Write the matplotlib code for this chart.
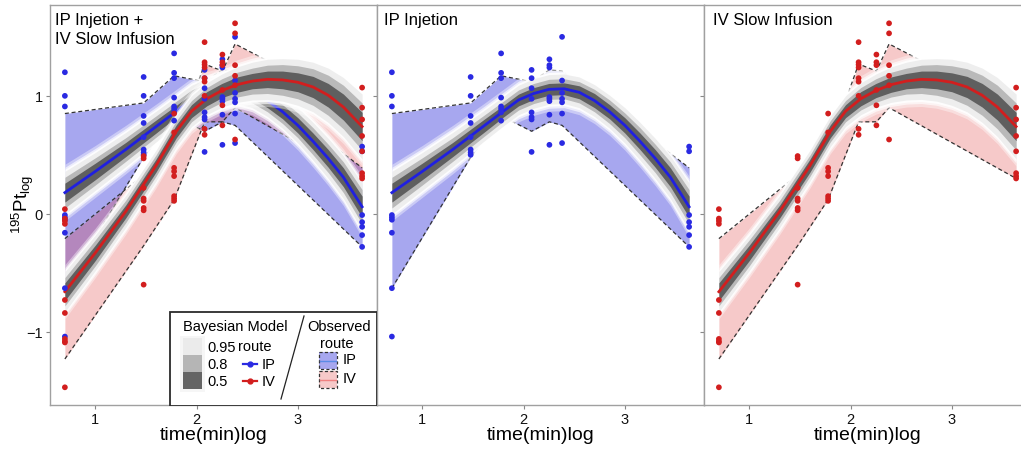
import numpy as np
import matplotlib
matplotlib.use('Agg')
import matplotlib.pyplot as plt
from matplotlib.patches import Rectangle

plt.rcParams['font.family'] = ['Liberation Sans', 'DejaVu Sans']
plt.rcParams['mathtext.fontset'] = 'custom'
plt.rcParams['mathtext.rm'] = 'Liberation Sans'
plt.rcParams['mathtext.it'] = 'Liberation Sans:italic'
plt.rcParams['mathtext.bf'] = 'Liberation Sans:bold'

# sampling times, log10(min): 5, 30, 60, 120, 180, 240, 4320
obs_x = [0.699, 1.477, 1.778, 2.079, 2.255, 2.380, 3.635]

# observed points per sampling time
ip_pts = [
    [1.20, 1.00, 0.91, -0.01, -0.03, -0.05, -0.16, -0.63, -1.04],
    [1.16, 1.00, 0.83, 0.77, 0.65, 0.545, 0.52, 0.50],
    [1.36, 1.195, 1.15, 0.985, 0.91, 0.89, 0.86, 0.79],
    [1.22, 1.15, 1.065, 0.975, 0.86, 0.82, 0.80, 0.525],
    [1.31, 1.26, 1.24, 0.99, 0.975, 0.955, 0.84, 0.585],
    [1.50, 1.13, 1.025, 0.975, 0.945, 0.85, 0.60],
    [0.57, 0.53, -0.01, -0.07, -0.11, -0.18, -0.28],
]
iv_pts = [
    [0.04, -0.04, -0.06, -0.085, -0.73, -0.84, -1.06, -1.08, -1.09, -1.47],
    [0.49, 0.47, 0.22, 0.13, 0.11, 0.05, 0.03, -0.60],
    [0.85, 0.69, 0.39, 0.36, 0.32, 0.15, 0.13, 0.11],
    [1.455, 1.285, 1.265, 1.24, 1.15, 1.12, 1.00, 0.72, 0.67],
    [1.35, 1.285, 1.26, 1.05, 0.92, 0.75],
    [1.615, 1.53, 1.26, 1.17, 1.09, 0.63],
    [1.07, 0.90, 0.80, 0.66, 0.53, 0.345, 0.32, 0.30],
]

# observed ribbons
ip_obs_upper = [0.85, 0.94, 1.17, 1.12, 1.22, 1.21, 0.39]
ip_obs_lower = [-0.63, 0.48, 0.83, 0.70, 0.78, 0.75, -0.28]
iv_obs_upper = [-0.21, 0.33, 0.54, 1.27, 1.21, 1.44, 0.88]
iv_obs_lower = [-1.23, -0.27, 0.12, 0.78, 0.78, 0.90, 0.30]

# bayesian model
model_x = [0.699, 1.0, 1.3, 1.6, 1.8, 1.95, 2.1, 2.25, 2.4, 2.55, 2.7, 2.85, 3.0, 3.15, 3.3, 3.45, 3.635]
ip_mid = [0.18, 0.36, 0.545, 0.74, 0.87, 0.965, 1.02, 1.055, 1.06, 1.03, 0.96, 0.865, 0.75, 0.615, 0.47, 0.31, 0.06]
ip_hw50 = [0.08, 0.07, 0.06, 0.055, 0.05, 0.05, 0.05, 0.05, 0.05, 0.055, 0.06, 0.06, 0.065, 0.07, 0.075, 0.08, 0.09]
ip_hw80 = [0.13, 0.115, 0.10, 0.09, 0.085, 0.085, 0.085, 0.085, 0.085, 0.09, 0.095, 0.10, 0.105, 0.115, 0.12, 0.13, 0.145]
ip_hw95 = [0.18, 0.16, 0.145, 0.13, 0.125, 0.125, 0.125, 0.125, 0.125, 0.13, 0.135, 0.14, 0.15, 0.16, 0.17, 0.18, 0.20]
iv_mid = [-0.66, -0.33, 0.02, 0.41, 0.70, 0.87, 0.975, 1.045, 1.095, 1.125, 1.14, 1.135, 1.115, 1.075, 1.005, 0.905, 0.74]
iv_hw50 = [0.075, 0.065, 0.055, 0.055, 0.055, 0.055, 0.06, 0.06, 0.065, 0.065, 0.07, 0.075, 0.08, 0.09, 0.10, 0.11, 0.12]
iv_hw80 = [0.12, 0.11, 0.095, 0.09, 0.09, 0.09, 0.095, 0.10, 0.105, 0.11, 0.12, 0.13, 0.14, 0.155, 0.17, 0.185, 0.20]
iv_hw95 = [0.17, 0.15, 0.135, 0.13, 0.13, 0.13, 0.135, 0.14, 0.15, 0.16, 0.17, 0.18, 0.195, 0.21, 0.23, 0.25, 0.275]

titles = ['IP Injetion +\nIV Slow Infusion', 'IP Injetion', 'IV Slow Infusion']

BLUE = '#2A2AE2'
RED = '#D21E1E'
BLUE_FILL = '#3C3CDC'
RED_FILL = '#DC2828'
GREY_BORDER = '#A0A0A0'
BAND_COLS = ['#EEEEEE', '#B9B9B9', '#5F5F5F']


def draw_obs(ax, upper, lower, fill, alpha):
    ax.fill_between(obs_x, lower, upper, color=fill, alpha=alpha, lw=0, zorder=1)
    ax.plot(obs_x, upper, color='#333333', lw=0.9, ls=(0, (3.2, 2.2)), zorder=1.2)
    ax.plot(obs_x, lower, color='#333333', lw=0.9, ls=(0, (3.2, 2.2)), zorder=1.2)


def draw_model(ax, mid, hw50, hw80, hw95, color, z):
    mid = np.array(mid)
    h95 = np.array(hw95)
    # soft white halo round the interval bands
    for extra, a in [(0.06, 0.4), (0.035, 0.65), (0.018, 0.9)]:
        ax.fill_between(model_x, mid - h95 - extra, mid + h95 + extra, color='white', alpha=a, lw=0, zorder=z)
    for hw, col in zip([hw95, hw80, hw50], BAND_COLS):
        hw = np.array(hw)
        ax.fill_between(model_x, mid - hw, mid + hw, color=col, lw=0, zorder=z + 0.1)
    ax.plot(model_x, mid, color=color, lw=2.0, zorder=z + 0.3)


def draw_points(ax, pts, color):
    for x, ys in zip(obs_x, pts):
        ax.scatter([x] * len(ys), ys, s=17, color=color, edgecolors='none', zorder=6)


W, H = 1021, 452
fig = plt.figure(figsize=(W / 100, H / 100), dpi=100)

axes = []
for i, left in enumerate([50, 377, 704]):
    ax = fig.add_axes([left / W, (H - 406) / H, 327 / W, 400 / H])
    ax.set_xlim(0.552, 3.782)
    ax.set_ylim(-1.62, 1.77)
    ax.set_xticks([1, 2, 3])
    ax.set_yticks([-1, 0, 1])
    ax.tick_params(direction='out', length=3, width=0.8, color='#888888',
                   labelsize=10.5, labelcolor='#111111', pad=2)
    for sp in ax.spines.values():
        sp.set_color(GREY_BORDER)
        sp.set_linewidth(1.0)
    if i > 0:
        ax.set_yticklabels([])
    ax.set_xlabel('time(min)log', fontsize=14, labelpad=0)
    ax.text(0.016 + 0.006 * i, 0.982, titles[i], transform=ax.transAxes, ha='left', va='top',
            fontsize=12, linespacing=1.35, zorder=10)
    axes.append(ax)

ax1, ax2, ax3 = axes

# combined panel
draw_obs(ax1, ip_obs_upper, ip_obs_lower, BLUE_FILL, 0.45)
draw_obs(ax1, iv_obs_upper, iv_obs_lower, RED_FILL, 0.25)
draw_model(ax1, ip_mid, ip_hw50, ip_hw80, ip_hw95, '#2020E0', 2)
draw_model(ax1, iv_mid, iv_hw50, iv_hw80, iv_hw95, RED, 3)
draw_points(ax1, ip_pts, BLUE)
draw_points(ax1, iv_pts, RED)

# IP only
draw_obs(ax2, ip_obs_upper, ip_obs_lower, BLUE_FILL, 0.45)
draw_model(ax2, ip_mid, ip_hw50, ip_hw80, ip_hw95, '#2020E0', 2)
draw_points(ax2, ip_pts, BLUE)

# IV only
draw_obs(ax3, iv_obs_upper, iv_obs_lower, RED_FILL, 0.25)
draw_model(ax3, iv_mid, iv_hw50, iv_hw80, iv_hw95, RED, 3)
draw_points(ax3, iv_pts, RED)

fig.text(23 / W, 1 - 204 / H, r'$^{195}\mathrm{Pt}_{\mathrm{log}}$', rotation=90,
         ha='center', va='center', fontsize=13.5)

# legend box (pixel coords inside the box)
lg = fig.add_axes([169 / W, (H - 407) / H, 208 / W, 95 / H])
lg.set_xlim(0, 208)
lg.set_ylim(95, 0)
lg.axis('off')
lg.add_patch(Rectangle((0.5, 0.5), 207, 94, facecolor='white', edgecolor='#2B2B2B', lw=1.3))
fs = 10.5
lg.text(14, 15, 'Bayesian Model', fontsize=fs, va='center', ha='left')
lg.add_patch(Rectangle((11, 25), 25, 56, facecolor='#F6F6F6', edgecolor='none'))
for k, (lab, col) in enumerate(zip(['0.95', '0.8', '0.5'], ['#EBEBEB', '#B5B5B5', '#656565'])):
    lg.add_patch(Rectangle((14, 27 + 17 * k), 19, 17, facecolor=col, edgecolor='none'))
    lg.text(38, 36 + 17 * k, lab, fontsize=fs, va='center', ha='left')
lg.text(69, 35, 'route', fontsize=fs, va='center', ha='left')
for k, (lab, col) in enumerate([('IP', BLUE), ('IV', RED)]):
    yk = 53 + 17 * k
    lg.plot([74, 88], [yk, yk], color=col, lw=1.6)
    lg.plot([81], [yk], 'o', color=col, ms=3.5)
    lg.text(93, yk, lab, fontsize=fs, va='center', ha='left')
lg.plot([135, 112], [5, 88], color='#222222', lw=0.9)
lg.text(138, 15, 'Observed', fontsize=fs, va='center', ha='left')
lg.text(168, 32, 'route', fontsize=fs, va='center', ha='center')
for k, (lab, fill, a, line) in enumerate([('IP', BLUE_FILL, 0.45, '#5B8BE6'), ('IV', RED_FILL, 0.25, '#F08080')]):
    y0 = 41 + 19 * k
    lg.add_patch(Rectangle((150, y0), 18, 17, facecolor=fill, alpha=a, edgecolor='none'))
    lg.add_patch(Rectangle((150, y0), 18, 17, facecolor='none', edgecolor='#333333', lw=0.9,
                           ls=(0, (2.5, 1.8))))
    lg.plot([151, 167], [y0 + 8.5, y0 + 8.5], color=line, lw=1.0)
    lg.text(174, y0 + 7.5, lab, fontsize=fs, va='center', ha='left')

fig.savefig('out.png', dpi=100)
